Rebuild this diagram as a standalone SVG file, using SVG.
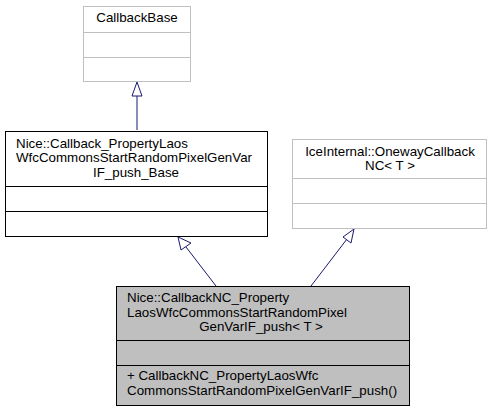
<svg xmlns="http://www.w3.org/2000/svg" width="493" height="412" viewBox="0 0 493 412">
<style>
text{font-family:"Liberation Sans",Arial,sans-serif;font-size:13.33px;fill:#000}
.g{fill:#fff;stroke:#bfbfbf;stroke-width:1}
.b{fill:#fff;stroke:#000;stroke-width:1}
.c{fill:#bfbfbf;stroke:#000;stroke-width:1}
.e{stroke:#191970;stroke-width:1;fill:none}
.h{fill:#fff;stroke:#191970;stroke-width:1}
.m{text-anchor:middle}
</style>
<rect width="493" height="412" fill="#fff"/>
<g id="edges">
<path class="e" d="M137,130 L137,96"/>
<polygon class="h" points="137,82 132,96 142,96"/>
<path class="e" d="M216,286 L186,247"/>
<polygon class="h" points="178,237 181,250 191,243"/>
<path class="e" d="M311,286 L347,239"/>
<polygon class="h" points="354,229 343,237 351,243"/>
</g>
<g id="CallbackBase">
<rect class="g" x="83.5" y="6.5" width="107" height="75"/>
<line class="g" x1="83.5" y1="32.5" x2="190.5" y2="32.5"/>
<line class="g" x1="83.5" y1="57.5" x2="190.5" y2="57.5"/>
<text class="m" x="137" y="22">CallbackBase</text>
</g>
<g id="CallbackBase_Nice">
<rect class="b" x="5.5" y="131.5" width="262" height="105"/>
<line class="b" x1="5.5" y1="186.5" x2="267.5" y2="186.5"/>
<line class="b" x1="5.5" y1="211.5" x2="267.5" y2="211.5"/>
<text x="16" y="147.5">Nice::Callback_PropertyLaos</text>
<text x="16" y="162">WfcCommonsStartRandomPixelGenVar</text>
<text class="m" x="136" y="177">IF_push_Base</text>
</g>
<g id="OnewayCallbackNC">
<rect class="g" x="292.5" y="139.5" width="194" height="89"/>
<line class="g" x1="292.5" y1="178.5" x2="486.5" y2="178.5"/>
<line class="g" x1="292.5" y1="203.5" x2="486.5" y2="203.5"/>
<text class="m" x="390" y="156">IceInternal::OnewayCallback</text>
<text class="m" x="390" y="170">NC&lt; T &gt;</text>
</g>
<g id="CallbackNC">
<rect class="c" x="116.5" y="286.5" width="293" height="119"/>
<line class="c" x1="116.5" y1="340.5" x2="409.5" y2="340.5"/>
<line class="c" x1="116.5" y1="365.5" x2="409.5" y2="365.5"/>
<text x="127" y="302">Nice::CallbackNC_Property</text>
<text x="127" y="316.5">LaosWfcCommonsStartRandomPixel</text>
<text class="m" x="261" y="331">GenVarIF_push&lt; T &gt;</text>
<text x="127" y="380">+ CallbackNC_PropertyLaosWfc</text>
<text x="127" y="394.5">CommonsStartRandomPixelGenVarIF_push()</text>
</g>
</svg>
